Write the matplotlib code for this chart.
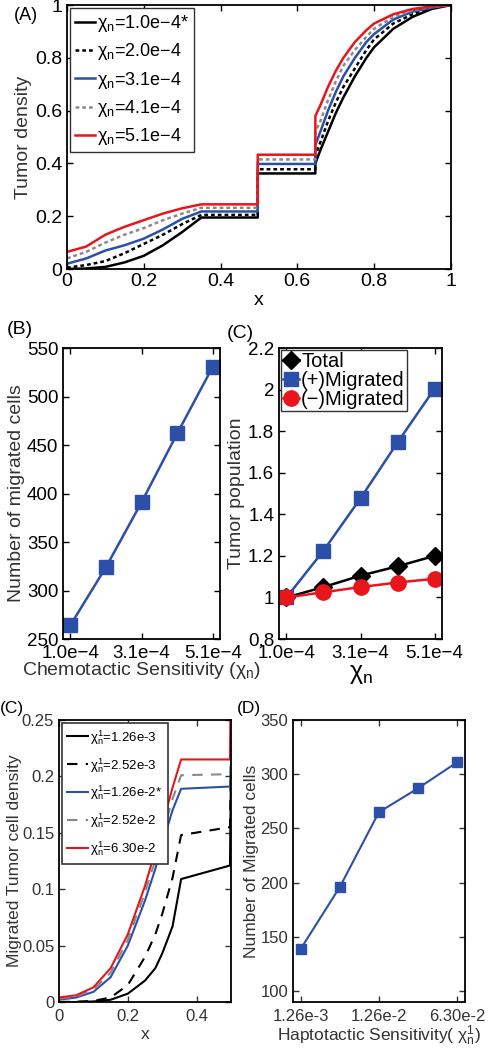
import numpy as np
import matplotlib.pyplot as plt

plt.rcParams['font.family'] = ['Liberation Sans', 'DejaVu Sans']
plt.rcParams['mathtext.fontset'] = 'custom'
plt.rcParams['mathtext.rm'] = 'Liberation Sans'
plt.rcParams['mathtext.it'] = 'Liberation Sans'

BLUE = '#2c4fa8'
RED = '#e8151b'
GRAY = '#8a8a8a'

# ---- panel A: tumor density profiles
xa = [0, 0.05, 0.1, 0.15, 0.2, 0.25, 0.3, 0.35, 0.497, 0.497, 0.647, 0.647,
      0.66, 0.68, 0.70, 0.72, 0.75, 0.78, 0.80, 0.85, 0.90, 0.95, 1.0]
dens_1 = [0.0, 0.002, 0.008, 0.025, 0.05, 0.09, 0.14, 0.195, 0.195, 0.362, 0.362, 0.40,
          0.45, 0.52, 0.59, 0.65, 0.73, 0.80, 0.84, 0.91, 0.955, 0.985, 1.0]
dens_2 = [0.005, 0.015, 0.03, 0.06, 0.095, 0.13, 0.17, 0.205, 0.205, 0.378, 0.378, 0.43,
          0.48, 0.56, 0.63, 0.69, 0.76, 0.83, 0.87, 0.93, 0.965, 0.99, 1.0]
dens_3 = [0.02, 0.04, 0.07, 0.09, 0.115, 0.15, 0.19, 0.218, 0.218, 0.398, 0.398, 0.47,
          0.52, 0.60, 0.67, 0.73, 0.80, 0.86, 0.89, 0.945, 0.975, 0.99, 1.0]
dens_4 = [0.04, 0.065, 0.10, 0.13, 0.155, 0.185, 0.21, 0.232, 0.232, 0.415, 0.415, 0.52,
          0.56, 0.64, 0.71, 0.77, 0.83, 0.88, 0.91, 0.955, 0.98, 0.993, 1.0]
dens_5 = [0.065, 0.085, 0.13, 0.16, 0.185, 0.21, 0.23, 0.245, 0.245, 0.433, 0.433, 0.58,
          0.62, 0.69, 0.75, 0.80, 0.86, 0.905, 0.93, 0.965, 0.985, 0.995, 1.0]
labels_a = [r'χ$_\mathregular{n}$=1.0e−4*', r'χ$_\mathregular{n}$=2.0e−4',
            r'χ$_\mathregular{n}$=3.1e−4', r'χ$_\mathregular{n}$=4.1e−4',
            r'χ$_\mathregular{n}$=5.1e−4']

# ---- panel B / C(top): chemotactic sensitivity
chemo_ticks = ['1.0e−4', '3.1e−4', '5.1e−4']
migrated_cells = [264, 324, 391, 462, 531]
pop_total = [1.0, 1.05, 1.105, 1.15, 1.20]
pop_plus = [1.0, 1.225, 1.477, 1.746, 2.005]
pop_minus = [1.0, 1.025, 1.05, 1.072, 1.09]

# ---- panel C(bottom): migrated tumor cell density
xc = [0, 0.05, 0.1, 0.15, 0.2, 0.25, 0.28, 0.3, 0.33, 0.355, 0.497, 0.5]
mig_1 = [0.0, 0.0, 0.0005, 0.002, 0.0074, 0.019, 0.03, 0.043, 0.067, 0.109, 0.121, 0.21]
mig_2 = [0.0, 0.0003, 0.001, 0.004, 0.015, 0.04, 0.06, 0.078, 0.11, 0.148, 0.155, 0.21]
mig_3 = [0.002, 0.004, 0.009, 0.022, 0.05, 0.09, 0.118, 0.14, 0.17, 0.189, 0.191, 0.21]
mig_4 = [0.003, 0.005, 0.011, 0.026, 0.055, 0.097, 0.126, 0.148, 0.18, 0.201, 0.202, 0.21]
mig_5 = [0.004, 0.006, 0.013, 0.03, 0.06, 0.103, 0.134, 0.157, 0.19, 0.215, 0.215, 0.30]
labels_c = [r'χ$_\mathregular{n}^\mathregular{1}$=1.26e-3',
            r'χ$_\mathregular{n}^\mathregular{1}$=2.52e-3',
            r'χ$_\mathregular{n}^\mathregular{1}$=1.26e-2*',
            r'χ$_\mathregular{n}^\mathregular{1}$=2.52e-2',
            r'χ$_\mathregular{n}^\mathregular{1}$=6.30e-2']

# ---- panel D: haptotactic sensitivity
hapto_ticks = ['1.26e-3', '1.26e-2', '6.30e-2']
hapto_cells = [139, 196, 265, 287, 311]

idx = [1, 2, 3, 4, 5]


def matlab_axes(ax):
    for s in ax.spines.values():
        s.set_linewidth(1.3)
    ax.tick_params(direction='in', top=True, right=True, length=4, width=1)


fig = plt.figure(figsize=(4.89, 10.5), dpi=100)

# (A)
ax = fig.add_axes([0.137, 0.7438, 0.785, 0.2514])
ax.plot(xa, dens_1, color='black', lw=1.8, label=labels_a[0])
ax.plot(xa, dens_2, color='black', lw=1.8, ls=(0, (1.5, 1.2)), label=labels_a[1])
ax.plot(xa, dens_3, color=BLUE, lw=1.8, label=labels_a[2])
ax.plot(xa, dens_4, color=GRAY, lw=1.8, ls=(0, (1.5, 1.2)), label=labels_a[3])
ax.plot(xa, dens_5, color=RED, lw=1.8, label=labels_a[4])
ax.set_xlim(0, 1)
ax.set_ylim(0, 1)
ax.set_xticks([0, 0.2, 0.4, 0.6, 0.8, 1])
ax.set_xticklabels(['0', '0.2', '0.4', '0.6', '0.8', '1'])
ax.set_yticks([0, 0.2, 0.4, 0.6, 0.8, 1])
ax.set_yticklabels(['0', '0.2', '0.4', '0.6', '0.8', '1'])
ax.tick_params(labelsize=14)
ax.tick_params(axis='x', pad=3)
ax.set_xlabel('x', fontsize=14, labelpad=1)
ax.set_ylabel('Tumor density', fontsize=14, color='#333333')
ax.yaxis.set_label_coords(-0.092, 0.5)
matlab_axes(ax)
leg = ax.legend(loc='upper left', fontsize=13, handlelength=1.1, handletextpad=0.1,
                labelspacing=0.4, borderaxespad=0.15, fancybox=False, framealpha=1,
                edgecolor='#333333', borderpad=0.3)
leg.get_frame().set_linewidth(1.0)

# (B)
ax = fig.add_axes([0.129, 0.3914, 0.321, 0.2771])
ax.plot(idx, migrated_cells, color=BLUE, lw=1.8, marker='s', ms=10)
ax.set_xlim(0.8, 5.2)
ax.set_ylim(250, 550)
ax.set_xticks([1, 3, 5])
ax.set_xticklabels(chemo_ticks)
ax.set_yticks([250, 300, 350, 400, 450, 500, 550])
ax.tick_params(labelsize=13.5)
ax.tick_params(axis='x', pad=4)
ax.set_xlabel(r'Chemotactic Sensitivity (χ$_\mathregular{n}$)', fontsize=14, color='#333333',
              labelpad=-1)
ax.set_ylabel('Number of migrated cells', fontsize=14, color='#333333')
ax.yaxis.set_label_coords(-0.24, 0.5)
matlab_axes(ax)

# (C) top
ax = fig.add_axes([0.5706, 0.3914, 0.3333, 0.2771])
ax.plot(idx, pop_total, color='black', lw=1.8, marker='D', ms=9, label='Total')
ax.plot(idx, pop_plus, color=BLUE, lw=1.8, marker='s', ms=10, label='(+)Migrated')
ax.plot(idx, pop_minus, color=RED, lw=1.8, marker='o', ms=11, label='(−)Migrated')
ax.set_xlim(0.8, 5.2)
ax.set_ylim(0.8, 2.2)
ax.set_xticks([1, 3, 5])
ax.set_xticklabels(chemo_ticks)
ax.set_yticks([0.8, 1, 1.2, 1.4, 1.6, 1.8, 2, 2.2])
ax.set_yticklabels(['0.8', '1', '1.2', '1.4', '1.6', '1.8', '2', '2.2'])
ax.tick_params(labelsize=13.5)
ax.tick_params(axis='x', pad=4)
ax.set_xlabel(r'χ$_\mathregular{n}$', fontsize=18, labelpad=0)
ax.set_ylabel('Tumor population', fontsize=14, color='#333333')
ax.yaxis.set_label_coords(-0.21, 0.5)
matlab_axes(ax)
leg = ax.legend(loc='upper left', fontsize=14.5, handlelength=0.8, handletextpad=0.1,
                labelspacing=0.0, borderaxespad=0.1, fancybox=False, framealpha=1,
                edgecolor='#333333', borderpad=0.1)
leg.get_frame().set_linewidth(1.0)

# (C) bottom
ax = fig.add_axes([0.1207, 0.0457, 0.3517, 0.2686])
ax.plot(xc, mig_1, color='black', lw=1.5, label=labels_c[0])
ax.plot(xc, mig_2, color='black', lw=1.5, ls=(0, (5, 4)), label=labels_c[1])
ax.plot(xc, mig_3, color=BLUE, lw=1.5, label=labels_c[2])
ax.plot(xc, mig_4, color=GRAY, lw=1.5, ls=(0, (5, 4)), label=labels_c[3])
ax.plot(xc, mig_5, color=RED, lw=1.5, label=labels_c[4])
ax.set_xlim(0, 0.5)
ax.set_ylim(0, 0.25)
ax.set_xticks([0, 0.2, 0.4])
ax.set_xticklabels(['0', '0.2', '0.4'])
ax.set_yticks([0, 0.05, 0.1, 0.15, 0.2, 0.25])
ax.set_yticklabels(['0', '0.05', '0.1', '0.15', '0.2', '0.25'])
ax.tick_params(labelsize=12, colors='#333333')
ax.tick_params(axis='x', pad=5)
ax.set_xlabel('x', fontsize=12.5, color='#333333', labelpad=2)
ax.set_ylabel('Migrated Tumor cell density', fontsize=12.5, color='#333333')
ax.yaxis.set_label_coords(-0.215, 0.5)
matlab_axes(ax)
leg = ax.legend(loc='upper left', fontsize=9.5, handlelength=1.6, handletextpad=0.15,
                labelspacing=0.7, borderaxespad=0.2, fancybox=False, framealpha=1,
                edgecolor='#333333', borderpad=0.4)
leg.get_frame().set_linewidth(1.2)

# (D)
ax = fig.add_axes([0.599, 0.0457, 0.3517, 0.2686])
ax.plot(idx, hapto_cells, color=BLUE, lw=1.5, marker='s', ms=7)
ax.set_xlim(0.8, 5.2)
ax.set_ylim(90, 350)
ax.set_xticks([1, 3, 5])
ax.set_xticklabels(hapto_ticks)
ax.set_yticks([100, 150, 200, 250, 300, 350])
ax.tick_params(labelsize=12, colors='#333333')
ax.tick_params(axis='x', pad=5)
ax.set_xlabel(r'Haptotactic Sensitivity( χ$_\mathregular{n}^\mathregular{1}$)', fontsize=12.5,
              color='#333333', labelpad=0)
ax.set_ylabel('Number of Migrated cells', fontsize=12.5, color='#333333')
ax.yaxis.set_label_coords(-0.2, 0.5)
matlab_axes(ax)

# panel letters
W, H = 489, 1050
for txt, px, py, fs in [('(A)', 14, 16, 13), ('(B)', 7, 330, 14), ('(C)', 227, 333, 14),
                        ('(C)', 0, 709, 12.5), ('(D)', 237, 708, 12.5)]:
    fig.text(px / W, 1 - py / H, txt, fontsize=fs, va='center', ha='left')

fig.savefig('out.png', dpi=100)
